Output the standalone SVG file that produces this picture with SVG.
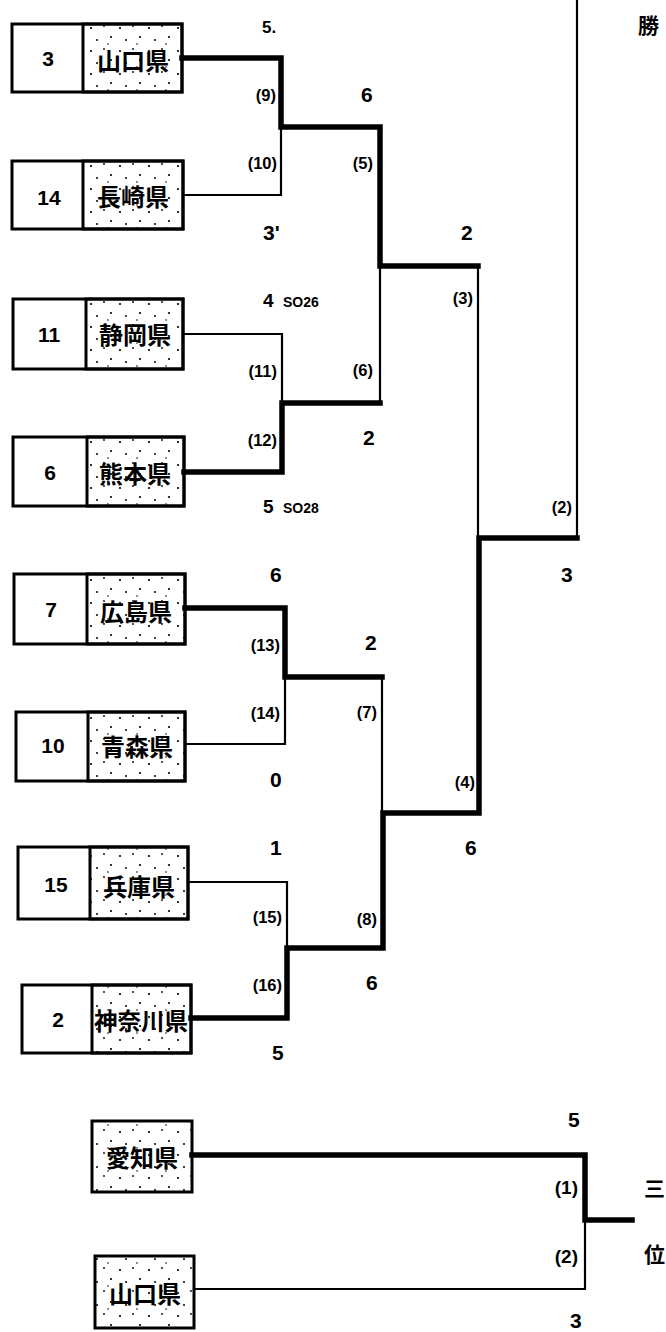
<svg xmlns="http://www.w3.org/2000/svg" width="666" height="1332" viewBox="0 0 666 1332">
<defs>
<pattern id="tone" width="29" height="23" patternUnits="userSpaceOnUse">
<circle cx="4" cy="5" r="1.1" fill="#000"/>
<circle cx="17" cy="3" r="0.9" fill="#000"/>
<circle cx="24" cy="14" r="1.1" fill="#000"/>
<circle cx="10" cy="17" r="1" fill="#000"/>
<circle cx="21" cy="21" r="0.8" fill="#000"/>
</pattern>
<style>
.box{fill:#fff;stroke:#000;stroke-width:3}
.name{fill:url(#tone);stroke:#000;stroke-width:3}
.thick{fill:none;stroke:#000;stroke-width:5.5;stroke-linecap:square}
.thin{fill:none;stroke:#000;stroke-width:2.2;stroke-linecap:square}
.jp{font-family:"Noto Sans CJK JP","Noto Sans CJK SC",sans-serif;font-weight:bold;font-size:24px;text-anchor:middle;dominant-baseline:central}
.seed{font-family:"Liberation Sans",Arial,sans-serif;font-weight:bold;font-size:21px;text-anchor:middle}
.sc{font-family:"Liberation Sans",Arial,sans-serif;font-weight:bold;font-size:21px}
.so{font-family:"Liberation Sans",Arial,sans-serif;font-weight:bold;font-size:14px}
.m{font-family:"Liberation Sans",Arial,sans-serif;font-weight:bold;font-size:16.5px;text-anchor:end}
.m3{font-family:"Liberation Sans",Arial,sans-serif;font-weight:bold;font-size:19px;text-anchor:end}
.side{font-family:"Noto Sans CJK JP","Noto Sans CJK SC",sans-serif;font-weight:bold;font-size:21px;dominant-baseline:central}
</style>
</defs>
<rect width="666" height="1332" fill="#fff"/>

<g id="team-yamaguchi">
<rect class="box" x="12" y="24" width="170" height="68"/>
<rect class="name" x="83" y="24" width="99" height="68"/>
<text class="seed" x="48" y="66">3</text>
<text class="jp" x="133" y="59">山口県</text>
</g>
<g id="team-nagasaki">
<rect class="box" x="12" y="161" width="171" height="68"/>
<rect class="name" x="83" y="161" width="100" height="68"/>
<text class="seed" x="49" y="205">14</text>
<text class="jp" x="133" y="195">長崎県</text>
</g>
<g id="team-shizuoka">
<rect class="box" x="13" y="299" width="170" height="70"/>
<rect class="name" x="86" y="299" width="97" height="70"/>
<text class="seed" x="49" y="342">11</text>
<text class="jp" x="135" y="333">静岡県</text>
</g>
<g id="team-kumamoto">
<rect class="box" x="13" y="437" width="171" height="69"/>
<rect class="name" x="87" y="437" width="97" height="69"/>
<text class="seed" x="50" y="480">6</text>
<text class="jp" x="135" y="472">熊本県</text>
</g>
<g id="team-hiroshima">
<rect class="box" x="14" y="574" width="171" height="70"/>
<rect class="name" x="87" y="574" width="98" height="70"/>
<text class="seed" x="51" y="617">7</text>
<text class="jp" x="136" y="610">広島県</text>
</g>
<g id="team-aomori">
<rect class="box" x="16" y="712" width="169" height="69"/>
<rect class="name" x="88" y="712" width="97" height="69"/>
<text class="seed" x="53" y="753">10</text>
<text class="jp" x="137" y="745">青森県</text>
</g>
<g id="team-hyogo">
<rect class="box" x="18" y="847" width="170" height="72"/>
<rect class="name" x="90" y="847" width="98" height="72"/>
<text class="seed" x="56" y="892">15</text>
<text class="jp" x="139" y="885">兵庫県</text>
</g>
<g id="team-kanagawa">
<rect class="box" x="22" y="985" width="169" height="68"/>
<rect class="name" x="92" y="985" width="99" height="68"/>
<text class="seed" x="58" y="1027">2</text>
<text class="jp" x="141" y="1019" textLength="94" lengthAdjust="spacingAndGlyphs">神奈川県</text>
</g>
<g id="third-aichi">
<rect class="name" x="92" y="1121" width="100" height="71"/>
<text class="jp" x="142" y="1156">愛知県</text>
</g>
<g id="third-yamaguchi">
<rect class="name" x="95" y="1256" width="99" height="72"/>
<text class="jp" x="145" y="1292">山口県</text>
</g>

<g id="connectors">
<path class="thick" d="M182 58 H281 V127 H380 V266 H478"/>
<path class="thin" d="M183 195 H281 V127"/>
<path class="thin" d="M183 334 H282 V403"/>
<path class="thick" d="M184 472 H282 V403 H380"/>
<path class="thin" d="M380 266 V403"/>
<path class="thick" d="M185 608 H285 V677 H382"/>
<path class="thin" d="M185 744 H285 V677"/>
<path class="thin" d="M188 882 H287 V948"/>
<path class="thick" d="M191 1018 H287 V948 H383 V813 H479 V538 H577"/>
<path class="thin" d="M382 677 V813"/>
<path class="thin" d="M478 266 V538"/>
<path class="thin" d="M577 538 V-5"/>
<path class="thick" d="M192 1155 H585 V1220 H632"/>
<path class="thin" d="M194 1289 H585 V1220"/>
</g>

<g id="labels">
<text class="so" x="262" y="33" style="font-size:17px">5.</text>
<text class="sc" x="361" y="102">6</text>
<text class="sc" x="263" y="240">3'</text>
<text class="sc" x="461" y="240">2</text>
<text class="sc" x="263" y="307" style="font-size:19px">4</text>
<text class="so" x="283" y="307">SO26</text>
<text class="sc" x="263" y="513" style="font-size:19px">5</text>
<text class="so" x="283" y="513">SO28</text>
<text class="sc" x="363" y="445">2</text>
<text class="sc" x="270" y="582">6</text>
<text class="sc" x="365" y="650">2</text>
<text class="sc" x="270" y="787">0</text>
<text class="sc" x="270" y="855">1</text>
<text class="sc" x="366" y="990">6</text>
<text class="sc" x="272" y="1060">5</text>
<text class="sc" x="561" y="582">3</text>
<text class="sc" x="465" y="855">6</text>
<text class="sc" x="568" y="1127">5</text>
<text class="sc" x="570" y="1328">3</text>

<text class="m" x="276" y="101">(9)</text>
<text class="m" x="277" y="169">(10)</text>
<text class="m" x="373" y="169">(5)</text>
<text class="m" x="277" y="377">(11)</text>
<text class="m" x="277" y="446">(12)</text>
<text class="m" x="373" y="376">(6)</text>
<text class="m" x="473" y="304">(3)</text>
<text class="m" x="280" y="651">(13)</text>
<text class="m" x="280" y="719">(14)</text>
<text class="m" x="377" y="718">(7)</text>
<text class="m" x="282" y="923">(15)</text>
<text class="m" x="282" y="991">(16)</text>
<text class="m" x="377" y="925">(8)</text>
<text class="m" x="475" y="788">(4)</text>
<text class="m" x="572" y="513">(2)</text>
<text class="m3" x="578" y="1194">(1)</text>
<text class="m3" x="578" y="1263">(2)</text>

<text class="side" x="638" y="24">勝</text>
<text class="side" x="644" y="1187">三</text>
<text class="side" x="644" y="1253">位</text>
</g>
</svg>
